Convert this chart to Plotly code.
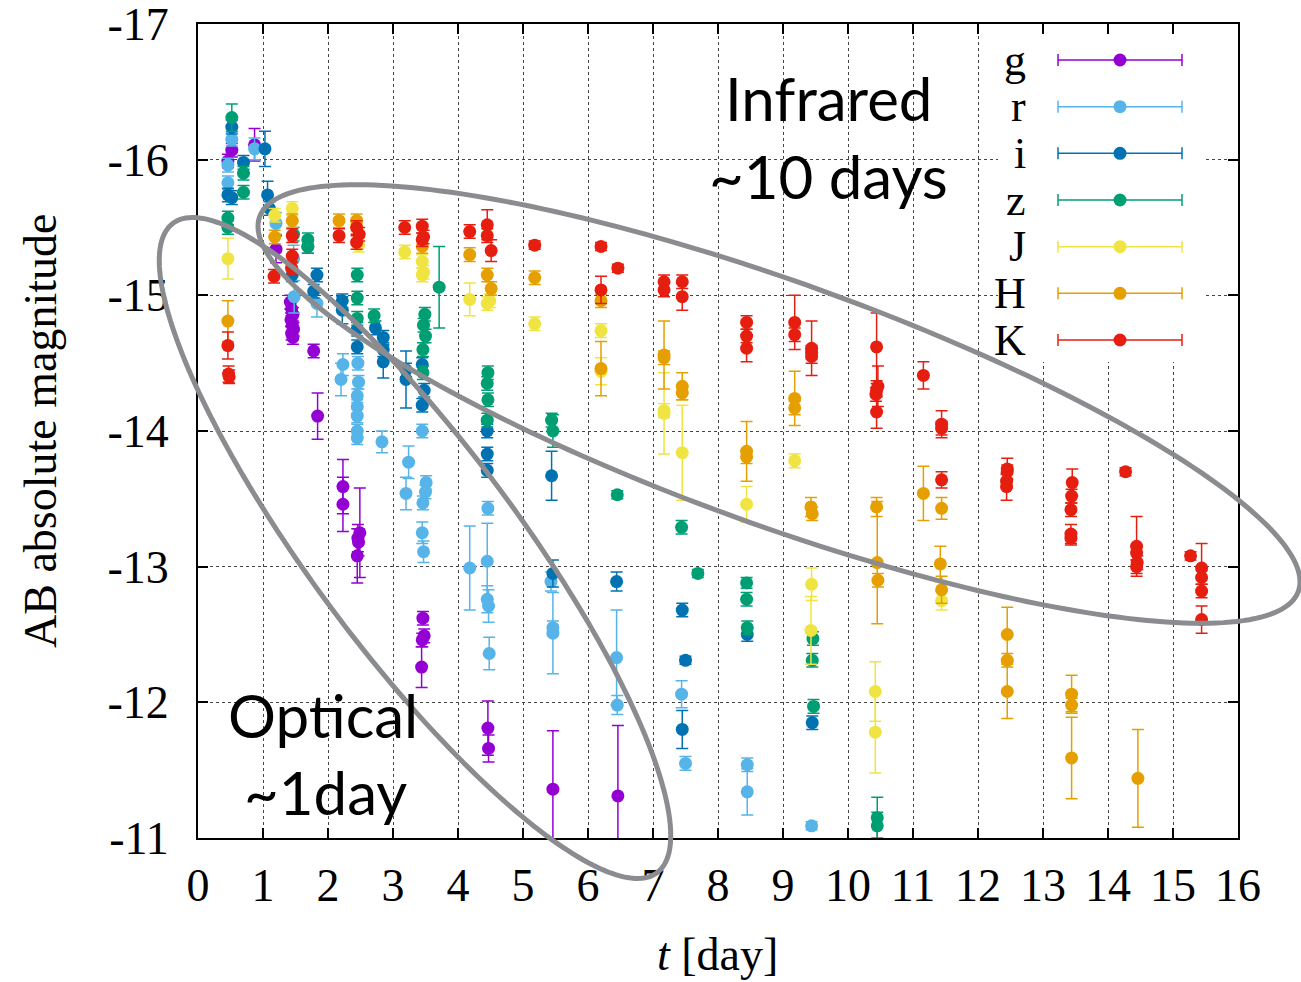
import numpy as np
import plotly.graph_objects as go

# ---- photometry per band: time since merger [day], AB absolute magnitude, 1-sigma error ----
g_t = [0.52, 0.46, 0.87, 1.20, 1.42, 1.44, 1.46, 1.43, 1.45, 1.47, 1.44, 1.46, 1.78, 1.84,
       2.23, 2.23, 2.49, 2.46, 2.47, 2.45, 3.46, 3.48, 3.45, 3.44, 4.46, 4.47, 5.46, 6.46]
g_mag = [-16.07, -15.99, -16.11, -15.34, -14.95, -14.90, -14.86, -14.82, -14.78, -14.75, -14.72,
         -14.69, -14.59, -14.11, -13.59, -13.46, -13.25, -13.21, -13.18, -13.08, -12.62, -12.49,
         -12.46, -12.26, -11.81, -11.66, -11.36, -11.31]
g_err = [0.05, 0.05, 0.12, 0.10, 0.05, 0.05, 0.05, 0.05, 0.05, 0.05, 0.05, 0.05, 0.05, 0.17,
         0.20, 0.20, 0.33, 0.10, 0.10, 0.20, 0.05, 0.05, 0.05, 0.15, 0.20, 0.10, 0.43, 0.52]

r_t = [0.52, 0.46, 0.46, 0.87, 1.20, 1.47, 1.48, 1.83, 2.23, 2.20, 2.46, 2.47, 2.45, 2.45, 2.45,
       2.45, 2.45, 2.83, 3.45, 3.24, 3.20, 3.51, 3.50, 3.46, 3.45, 3.47, 4.18, 4.46, 4.45, 4.45,
       4.47, 4.48, 5.46, 5.46, 5.43, 6.44, 6.45, 7.44, 7.50, 8.45, 8.45, 9.44]
r_mag = [-16.15, -15.96, -15.83, -16.08, -15.53, -15.27, -14.99, -14.94, -14.49, -14.38, -14.50,
         -14.36, -14.26, -14.18, -14.11, -14.00, -13.95, -13.92, -14.00, -13.77, -13.54, -13.62,
         -13.55, -13.47, -13.25, -13.11, -12.99, -13.43, -13.04, -12.76, -12.71, -12.36, -12.55,
         -12.51, -12.89, -12.33, -11.98, -12.06, -11.55, -11.54, -11.34, -11.09]
r_err = [0.05, 0.05, 0.05, 0.08, 0.08, 0.10, 0.12, 0.10, 0.08, 0.12, 0.05, 0.05, 0.05, 0.05,
         0.05, 0.05, 0.05, 0.08, 0.05, 0.12, 0.12, 0.05, 0.05, 0.05, 0.08, 0.08, 0.31, 0.05,
         0.28, 0.10, 0.12, 0.12, 0.05, 0.30, 0.07, 0.35, 0.07, 0.10, 0.05, 0.05, 0.17, 0.03]

i_t = [0.52, 0.46, 0.52, 0.70, 1.03, 1.07, 1.10, 1.45, 1.69, 1.83, 1.78, 2.22, 2.22, 2.45, 2.45,
       2.73, 2.85, 2.85, 2.85, 3.20, 3.20, 3.45, 3.48, 3.45, 4.45, 4.45, 4.45, 5.44, 5.46, 6.44,
       7.45, 7.50, 7.45, 8.45, 9.45]
i_mag = [-16.24, -15.74, -15.72, -15.98, -16.08, -15.74, -15.64, -15.15, -15.36, -15.15, -15.03,
         -14.96, -14.89, -14.75, -14.62, -14.76, -14.69, -14.60, -14.51, -14.45, -14.38, -14.49,
         -14.30, -14.19, -14.00, -13.83, -13.71, -13.67, -12.95, -12.89, -12.68, -12.31, -11.80,
         -12.50, -11.85]
i_err = [0.05, 0.05, 0.05, 0.05, 0.13, 0.10, 0.05, 0.05, 0.05, 0.05, 0.05, 0.05, 0.10, 0.05,
         0.05, 0.05, 0.05, 0.05, 0.12, 0.05, 0.21, 0.05, 0.05, 0.05, 0.05, 0.05, 0.05, 0.18,
         0.10, 0.07, 0.05, 0.03, 0.14, 0.05, 0.05]

z_t = [0.52, 0.46, 0.46, 0.70, 0.70, 1.47, 1.69, 1.69, 2.45, 2.45, 2.45, 2.71, 3.71, 3.49, 3.47,
       3.50, 3.46, 3.46, 4.46, 4.45, 4.46, 4.45, 5.44, 5.46, 6.45, 7.44, 7.69, 8.44, 8.44, 8.45,
       9.46, 9.45, 9.47, 10.45, 10.45]
z_mag = [-16.31, -15.57, -15.50, -15.90, -15.76, -15.45, -15.41, -15.36, -15.15, -14.98, -14.83,
         -14.85, -15.06, -14.86, -14.78, -14.70, -14.60, -14.43, -14.43, -14.35, -14.23, -14.08,
         -14.08, -14.00, -13.53, -13.29, -12.95, -12.88, -12.76, -12.55, -12.47, -12.31, -11.97,
         -11.15, -11.09]
z_err = [0.10, 0.05, 0.05, 0.05, 0.05, 0.05, 0.05, 0.05, 0.05, 0.05, 0.05, 0.05, 0.30, 0.05,
         0.05, 0.05, 0.05, 0.05, 0.05, 0.05, 0.05, 0.05, 0.05, 0.12, 0.03, 0.05, 0.03, 0.04,
         0.05, 0.05, 0.05, 0.05, 0.05, 0.15, 0.10]

J_t = [0.46, 1.18, 1.45, 2.44, 2.47, 3.18, 3.45, 3.47, 3.45, 4.18, 4.45, 4.49, 5.18, 6.20, 6.20,
       7.17, 7.17, 7.45, 8.44, 9.18, 9.44, 9.43, 10.42, 10.42, 11.44]
J_mag = [-15.27, -15.59, -15.64, -15.52, -15.37, -15.32, -15.25, -15.17, -15.15, -14.97, -14.94,
         -14.96, -14.79, -14.74, -14.44, -14.15, -14.13, -13.84, -13.46, -13.78, -12.87, -12.53,
         -12.08, -11.78, -12.75]
J_err = [0.15, 0.05, 0.05, 0.05, 0.05, 0.05, 0.05, 0.05, 0.05, 0.12, 0.05, 0.05, 0.05, 0.05,
         0.10, 0.05, 0.30, 0.35, 0.13, 0.05, 0.12, 0.25, 0.22, 0.30, 0.07]

H_t = [0.46, 1.18, 1.45, 2.17, 2.44, 3.45, 4.18, 4.45, 4.51, 5.18, 6.20, 6.20, 7.17, 7.17, 7.45,
       7.45, 8.44, 8.44, 9.18, 9.18, 9.43, 9.45, 10.44, 10.45, 10.46, 11.16, 11.44, 11.42, 11.44,
       12.45, 12.45, 12.45, 13.44, 13.44, 13.44, 14.46]
H_mag = [-14.81, -15.43, -15.55, -15.55, -15.55, -15.36, -15.30, -15.15, -15.05, -15.13, -14.96,
         -14.46, -14.56, -14.54, -14.33, -14.28, -13.85, -13.81, -14.24, -14.17, -13.44, -13.39,
         -13.44, -13.03, -12.90, -13.54, -13.43, -13.02, -12.83, -12.50, -12.31, -12.08, -12.06,
         -11.98, -11.59, -11.44]
H_err = [0.15, 0.05, 0.05, 0.05, 0.05, 0.05, 0.05, 0.05, 0.05, 0.05, 0.05, 0.20, 0.25, 0.05,
         0.10, 0.05, 0.22, 0.05, 0.20, 0.05, 0.07, 0.05, 0.07, 0.45, 0.05, 0.20, 0.08, 0.13,
         0.10, 0.20, 0.05, 0.20, 0.14, 0.05, 0.30, 0.36]

K_t = [0.46, 0.47, 0.48, 1.17, 1.45, 1.45, 1.44, 2.17, 2.44, 2.48, 2.44, 3.18, 3.45, 3.47, 3.45,
       4.18, 4.45, 4.45, 4.51, 5.18, 6.20, 6.46, 6.20, 7.17, 7.17, 7.45, 7.45, 8.44, 8.44, 8.44,
       9.18, 9.18, 9.44, 9.44, 9.44, 10.44, 10.46, 10.44, 10.43, 10.44, 11.16, 11.44, 11.44,
       11.44, 12.45, 12.45, 12.44, 12.44, 13.45, 13.44, 13.43, 13.43, 13.43, 14.27, 14.44,
       14.44, 14.45, 14.44, 15.27, 15.44, 15.44, 15.44, 15.44]
K_mag = [-14.63, -14.42, -14.40, -15.14, -15.44, -15.29, -15.20, -15.44, -15.50, -15.45, -15.39,
         -15.50, -15.51, -15.43, -15.41, -15.47, -15.52, -15.44, -15.33, -15.37, -15.36, -15.20,
         -15.04, -15.10, -15.04, -15.10, -14.99, -14.80, -14.70, -14.61, -14.80, -14.71, -14.61,
         -14.58, -14.55, -14.62, -14.33, -14.30, -14.27, -14.14, -14.41, -14.05, -14.02, -13.64,
         -13.72, -13.70, -13.63, -13.59, -13.62, -13.52, -13.42, -13.24, -13.21, -13.70, -13.15,
         -13.10, -13.03, -13.00, -13.08, -12.99, -12.92, -12.82, -12.61]
K_err = [0.10, 0.06, 0.05, 0.05, 0.05, 0.05, 0.05, 0.05, 0.05, 0.05, 0.05, 0.05, 0.05, 0.05,
         0.05, 0.05, 0.11, 0.05, 0.08, 0.03, 0.03, 0.03, 0.10, 0.05, 0.05, 0.05, 0.10, 0.05,
         0.05, 0.10, 0.20, 0.05, 0.20, 0.05, 0.05, 0.25, 0.15, 0.05, 0.05, 0.12, 0.10, 0.10,
         0.05, 0.06, 0.08, 0.05, 0.05, 0.10, 0.10, 0.05, 0.05, 0.07, 0.05, 0.03, 0.22, 0.05,
         0.05, 0.05, 0.03, 0.18, 0.05, 0.05, 0.10]

band_names = ["g", "r", "i", "z", "J", "H", "K"]
band_colors = ["#9400D3", "#56B4E9", "#0072B2", "#009E73", "#F0E442", "#E69F00", "#E51E10"]
band_data = [(g_t, g_mag, g_err), (r_t, r_mag, r_err), (i_t, i_mag, i_err), (z_t, z_mag, z_err),
             (J_t, J_mag, J_err), (H_t, H_mag, H_err), (K_t, K_mag, K_err)]

x_ticks = list(range(0, 17))
y_ticks = [-17, -16, -15, -14, -13, -12, -11]
y_ticktext = ["-17", "-16", "-15", "-14", "-13", "-12", "-11"]

SERIF = "Liberation Serif"
SANS = "Lato"
W, H = 1301, 982
ML, MR, MT, MB = 198, 63, 24, 144
PW, PH = W - ML - MR, H - MT - MB


def px_to_paper(px, py):
    return (px - ML) / PW, (H - MB - py) / PH


fig = go.Figure()
for name, col, (t, m, e) in zip(band_names, band_colors, band_data):
    fig.add_trace(go.Scatter(
        x=t, y=m, mode="markers", name=name, showlegend=False,
        marker=dict(size=13, color=col, line=dict(width=0)),
        error_y=dict(type="data", array=e, visible=True, color=col, thickness=1.5, width=6),
    ))

shapes = []
annotations = []

# key box with error-bar samples
shapes.append(dict(type="rect", xref="paper", yref="paper", layer="above",
                   x0=px_to_paper(998, 0)[0], x1=px_to_paper(1206, 0)[0],
                   y0=px_to_paper(0, 362)[1], y1=px_to_paper(0, 35)[1],
                   fillcolor="white", line=dict(width=0)))
for k, (name, col) in enumerate(zip(band_names, band_colors)):
    yy = 60 + k * 46.67
    xa, ya = px_to_paper(1058, yy)
    xb, _ = px_to_paper(1182, yy)
    cap = 6 / PH
    shapes.append(dict(type="line", xref="paper", yref="paper", layer="above",
                       x0=xa, x1=xb, y0=ya, y1=ya, line=dict(color=col, width=1.5)))
    for xc in (xa, xb):
        shapes.append(dict(type="line", xref="paper", yref="paper", layer="above",
                           x0=xc, x1=xc, y0=ya - cap, y1=ya + cap, line=dict(color=col, width=1.5)))
    xm, _ = px_to_paper(1120, yy)
    shapes.append(dict(type="circle", xref="paper", yref="paper", layer="above",
                       xsizemode="pixel", ysizemode="pixel", xanchor=xm, yanchor=ya,
                       x0=-6.5, x1=6.5, y0=-6.5, y1=6.5, fillcolor=col, line=dict(width=0)))
    xl, _ = px_to_paper(1028, yy)
    annotations.append(dict(xref="paper", yref="paper", x=xl, y=ya, xanchor="right",
                            yanchor="middle", text=name, showarrow=False,
                            font=dict(family=SERIF, size=44, color="black")))


def path_from_pixels(xs, ys):
    pts = [px_to_paper(a, b) for a, b in zip(xs, ys)]
    return "M " + " L ".join(f"{a:.5f},{b:.5f}" for a, b in pts) + " Z"


phi = np.linspace(0, 2 * np.pi, 240, endpoint=False)

# optical envelope: tilted ellipse
cx, cy, a, b, th = 415, 548, 405, 103, np.radians(53.3)
ex = cx + a * np.cos(phi) * np.cos(th) - b * np.sin(phi) * np.sin(th)
ey = cy + a * np.cos(phi) * np.sin(th) + b * np.sin(phi) * np.cos(th)
shapes.append(dict(type="path", xref="paper", yref="paper", layer="above",
                   path=path_from_pixels(ex, ey), line=dict(color="#8A8C8F", width=5)))

# infrared envelope: sheared ellipse (horizontal half-extent, conjugate slope, half-height)
cx, cy, w, slope, hh = 779, 404, 521, 0.341, 128.5
ex = cx + w * np.cos(phi)
ey = cy + slope * w * np.cos(phi) + hh * np.sin(phi)
shapes.append(dict(type="path", xref="paper", yref="paper", layer="above",
                   path=path_from_pixels(ex, ey), line=dict(color="#8A8C8F", width=5)))

for txt, (px, py) in [("Infrared", (828, 98)), ("~10 days", (828, 176)),
                      ("Optical", (323, 715)), ("~1day", (325, 792))]:
    xp, yp = px_to_paper(px, py)
    annotations.append(dict(xref="paper", yref="paper", x=xp, y=yp, xanchor="center",
                            yanchor="middle", text=txt, showarrow=False,
                            font=dict(family=SANS, size=60, color="black")))

# axis titles
xp, yp = px_to_paper(717, 954)
annotations.append(dict(xref="paper", yref="paper", x=xp, y=yp, xanchor="center", yanchor="middle",
                        text="<i>t</i> [day]", showarrow=False,
                        font=dict(family=SERIF, size=46, color="black")))
xp, yp = px_to_paper(40, 431)
annotations.append(dict(xref="paper", yref="paper", x=xp, y=yp, xanchor="center", yanchor="middle",
                        text="AB absolute magnitude", textangle=-90, showarrow=False,
                        font=dict(family=SERIF, size=46, color="black")))

axis_common = dict(
    showline=True, linewidth=2, linecolor="black", mirror="ticks",
    ticks="inside", ticklen=10, tickwidth=1.5, tickcolor="black",
    showgrid=True, gridcolor="#444444", griddash="dot", gridwidth=1,
    zeroline=False, ticklabeloverflow="allow", automargin=False,
    tickfont=dict(family=SERIF, size=46, color="black"),
)

fig.update_layout(
    width=W, height=H,
    margin=dict(l=ML, r=MR, t=MT, b=MB, pad=0, autoexpand=False),
    paper_bgcolor="white", plot_bgcolor="white",
    xaxis=dict(range=[0, 16], tickmode="array", tickvals=x_ticks,
               ticktext=[str(v) for v in x_ticks], ticklabelstandoff=6, **axis_common),
    yaxis=dict(range=[-11, -17], tickmode="array", tickvals=y_ticks,
               ticktext=y_ticktext, ticklabelstandoff=18, **axis_common),
    shapes=shapes, annotations=annotations,
)

fig.write_html("out.html")
